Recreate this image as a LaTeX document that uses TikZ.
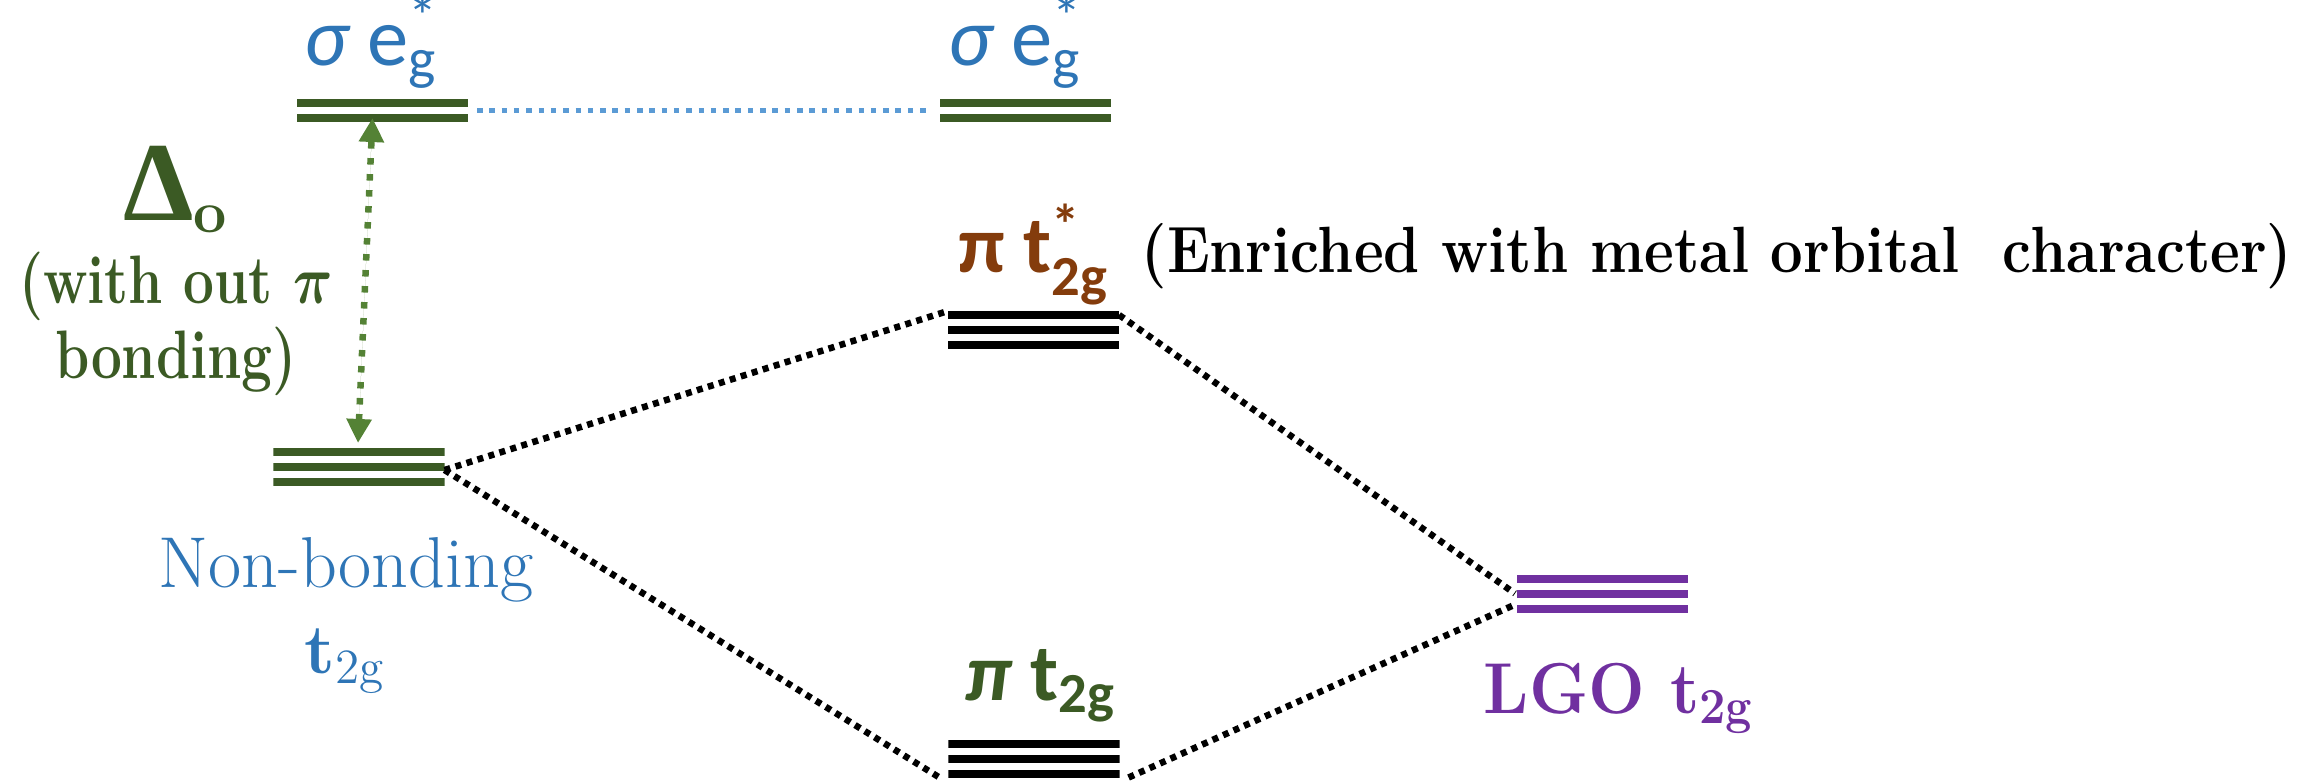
\RequirePackage{fix-cm}
\documentclass[tikz,border=0pt]{standalone}
\usepackage{fontspec}
\usepackage{amsmath}
\usepackage{bm}
\newfontfamily\calib{Carlito}
\newfontfamily\timesf{Liberation Serif}
\usetikzlibrary{arrows.meta}
\definecolor{levelgreen}{HTML}{3B5A24}
\definecolor{arrowgreen}{HTML}{548235}
\definecolor{labelblue}{HTML}{2E75B6}
\definecolor{linkblue}{HTML}{5B9BD5}
\definecolor{starbrown}{HTML}{843C0C}
\definecolor{lgopurple}{HTML}{7030A0}
\newcommand{\narrowtxt}[2][0.8]{\scalebox{#1}[1]{#2}}
\newcommand{\lowstar}{\text{\raisebox{-0.22em}{*}}}
\tikzset{
  twobar/.style={minimum width=1.71cm, minimum height=0.23cm, inner sep=0pt, outer sep=0pt,
    path picture={\foreach \k in {0,1}
      \fill[#1] ([yshift=-\k*0.15cm]path picture bounding box.north west) rectangle ([yshift=-\k*0.15cm-0.08cm]path picture bounding box.north east);}},
  threebar/.style={minimum width=1.71cm, minimum height=0.38cm, inner sep=0pt, outer sep=0pt,
    path picture={\foreach \k in {0,1,2}
      \fill[#1] ([yshift=-\k*0.15cm]path picture bounding box.north west) rectangle ([yshift=-\k*0.15cm-0.08cm]path picture bounding box.north east);}},
  mixline/.style={line width=0.065cm, dash pattern=on 0.06cm off 0.055cm, draw=black},
  sigmaline/.style={line width=0.055cm, dash pattern=on 0.055cm off 0.068cm, draw=linkblue},
  deltaarrow/.style={line width=0.065cm, dash pattern=on 0.065cm off 0.095cm, draw=arrowgreen, fill=arrowgreen,
    {Triangle[width=0.24cm,length=0.24cm]}-{Triangle[width=0.24cm,length=0.24cm]}},
  sigmalabel/.style={inner sep=0pt, anchor=base, text=labelblue, font=\fontsize{23.5}{27}\selectfont\calib},
  deltalabel/.style={inner sep=0pt, anchor=base, text=levelgreen, font=\fontsize{19.5}{22}\selectfont\bfseries},
  nblabel/.style={inner sep=0pt, anchor=base, text=labelblue, font=\fontsize{20.5}{24}\selectfont},
  pilabel/.style={inner sep=0pt, anchor=base west, font=\fontsize{23}{26}\selectfont\calib\bfseries},
  enrichlabel/.style={inner sep=0pt, anchor=base west, text=black, font=\fontsize{18.6}{22}\selectfont\bfseries},
  lgolabel/.style={inner sep=0pt, anchor=base west, text=lgopurple, font=\fontsize{20.5}{24}\selectfont\bfseries},
}
\begin{document}
\begin{tikzpicture}[x=0.01cm, y=-0.01cm]
\useasboundingbox (0,0) rectangle (2311,781);
% energy levels
\node[twobar=levelgreen] (sigL) at (382.5,110.5) {};
\node[twobar=levelgreen] (sigR) at (1025.5,110.5) {};
\node[threebar=levelgreen] (nb) at (359,467) {};
\node[threebar=black] (pistar) at (1033.5,330) {};
\node[threebar=black] (pibond) at (1034,758.5) {};
\node[threebar=lgopurple] (lgo) at (1602.5,593.5) {};
% labels
\node[sigmalabel] (sigLlab) at (372,65) {{\itshape σ} e$^{\lowstar}_{\text{g}}$};
\node[sigmalabel] (sigRlab) at (1016,65) {{\itshape σ} e$^{\lowstar}_{\text{g}}$};
\node[deltalabel, font=\fontsize{24}{28}\selectfont\bfseries] (dlabel) at (176,220) {{\fontsize{32}{34}\selectfont\timesf Δ}$_{\text{o}}$};
\node[deltalabel] (dwith) at (176,303) {\narrowtxt{(with out $\bm{\pi}$}};
\node[deltalabel] (dbond) at (176,378) {\narrowtxt{bonding)}};
\node[nblabel] (nblab) at (346,587) {Non-bonding};
\node[nblabel, font=\fontsize{20}{24}\selectfont] (nbt) at (345,673) {\textbf{t}$_{\text{2g}}$};
\node[pilabel, text=starbrown] (pistarlab) at (958,272) {π t$^{\lowstar}_{\text{2g}}$};
\node[enrichlabel] (enrichlab) at (1141,272) {\narrowtxt[0.885]{(Enriched with metal orbital\ \ character)}};
\node[pilabel, text=levelgreen] (pilab) at (965,700) {{\itshape π} t$_{\text{2g}}$};
\node[lgolabel] (lgolab) at (1483,713) {\narrowtxt[0.93]{LGO t$_{\text{2g}}$}};
% connectors
\draw[sigmaline] ([xshift=0.09cm]sigL.east) -- ([xshift=-0.08cm]sigR.west);
\draw[deltaarrow] ([xshift=-0.01cm, yshift=0.05cm]nb.north) -- ([xshift=-0.1cm, yshift=0.04cm]sigL.south);
\draw[mixline] ([yshift=-0.03cm]nb.east) -- (pistar.north west);
\draw[mixline] ([yshift=-0.03cm]nb.east) -- ([xshift=-0.09cm]pibond.south west);
\draw[mixline] ([yshift=-0.04cm]pistar.north east) -- ([xshift=-0.02cm]lgo.west);
\draw[mixline] ([xshift=0.09cm]pibond.south east) -- ([xshift=-0.04cm, yshift=-0.12cm]lgo.west);
\end{tikzpicture}
\end{document}
